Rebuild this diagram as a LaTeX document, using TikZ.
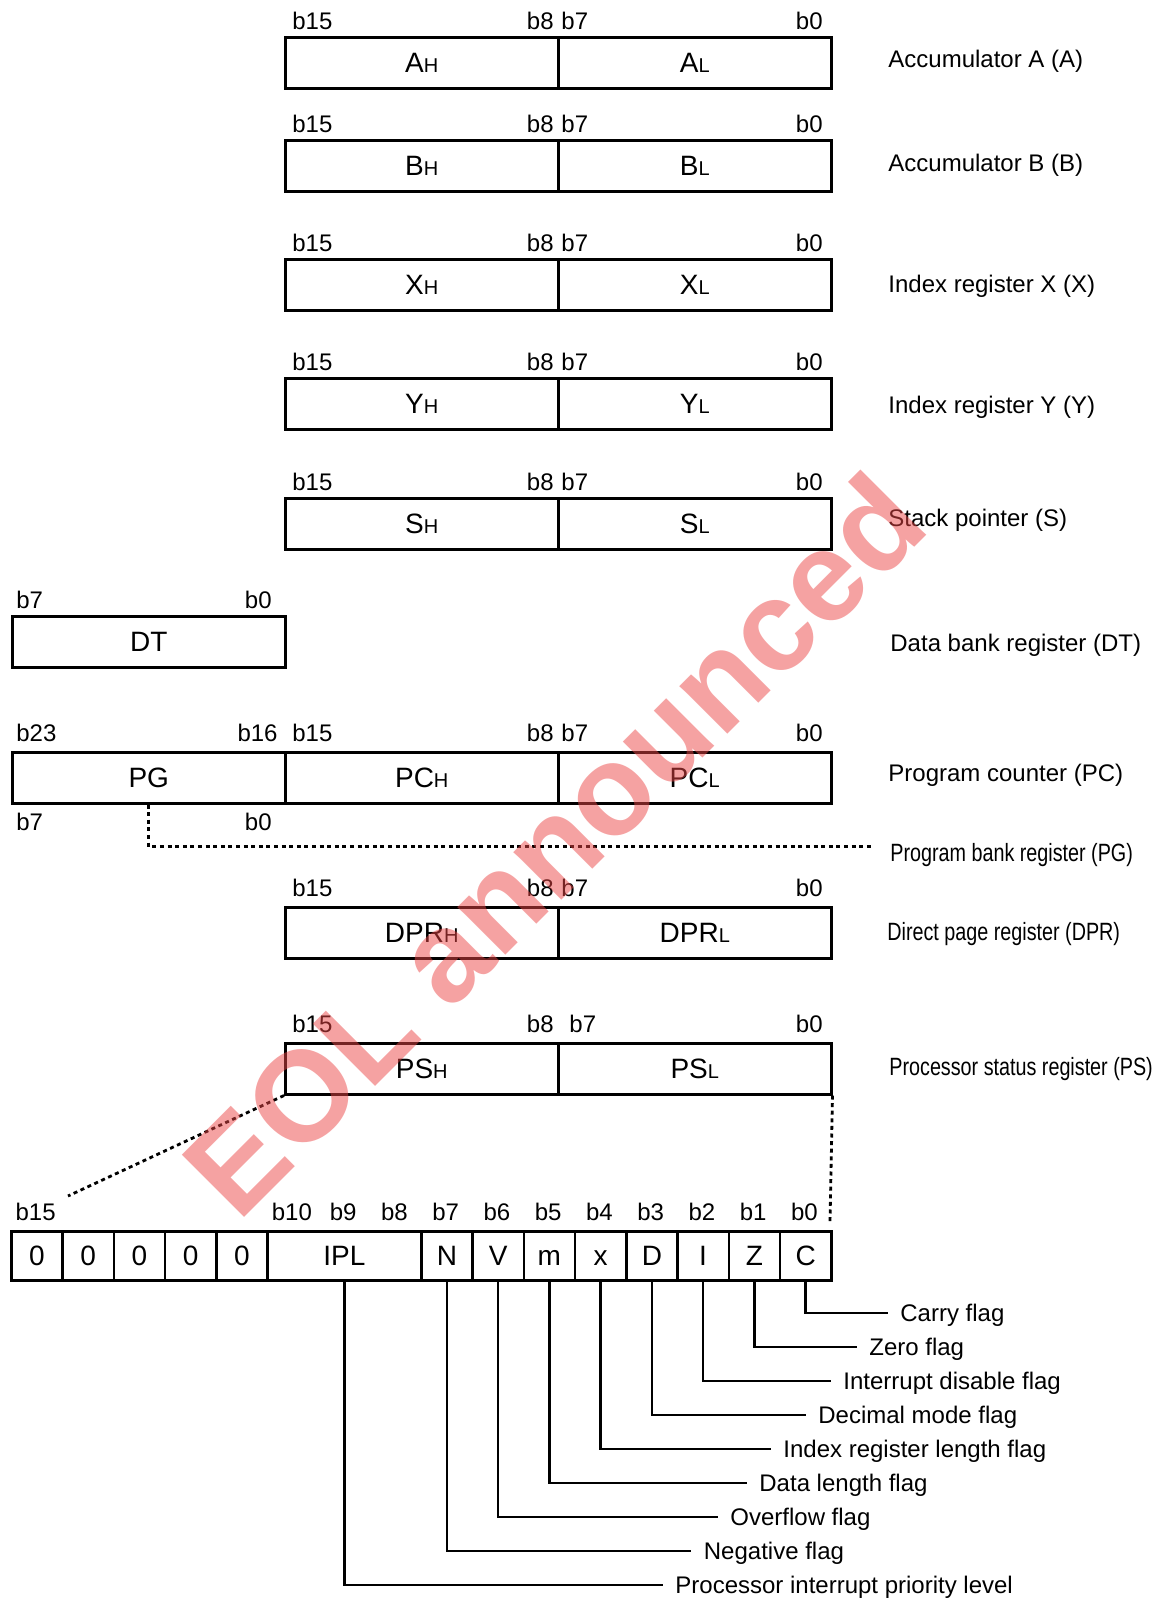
\documentclass[tikz,border=0pt]{standalone}
\usepackage{fontspec}
\setmainfont{Liberation Sans}
\newfontfamily\narrowfont{Liberation Sans}[FakeStretch=0.79]
\newcommand\lo[1]{{\fontsize{10}{12}\selectfont #1}}
\definecolor{wmred}{RGB}{235,70,70}
\begin{document}
\begin{tikzpicture}[x=0.5pt,y=-0.5pt,
  regbox/.style={draw, line width=1.25pt, inner sep=0pt, minimum width=136.5pt, minimum height=25.5pt,
    anchor=north west, text height=10pt, text depth=0pt, font=\fontsize{14}{16}\selectfont},
  flagbox/.style={regbox, minimum width=25.625pt, minimum height=24.7pt},
  bitlab/.style={inner sep=0pt, font=\fontsize{12}{14}\selectfont},
  rlab/.style={anchor=west, inner sep=0pt, text height=8.6pt, text depth=0pt, font=\fontsize{12}{14}\selectfont},
  nrlab/.style={rlab, font=\narrowfont\fontsize{12.5}{14}\selectfont},
  flagtxt/.style={anchor=west, inner ysep=0pt, inner xsep=6.25pt, text height=8.6pt, text depth=0pt, font=\fontsize{12}{14}\selectfont},
  callout/.style={line width=1.2pt},
  dotline/.style={line width=1.4pt, dash pattern=on 2pt off 1.8pt}]
\useasboundingbox (0,0) rectangle (1161,1601);

% ---------- 16-bit registers ----------
\newcommand\regrow[7]{%
  \node[regbox] (#1H) at (284,#2) {#3};
  \node[regbox] (#1L) at (557,#2) {#4};
  \node[bitlab, anchor=base west] (#1b15) at (292,#2-#6) {b15};
  \node[bitlab, anchor=base east] (#1b8) at (554,#2-#6) {b8};
  \node[bitlab, anchor=base west] (#1b7) at (#7,#2-#6) {b7};
  \node[bitlab, anchor=base east] (#1b0) at (823,#2-#6) {b0};
  \node[rlab] (#1lab) at (888,#5) {\csname lab#1\endcsname};
}
\newcommand\labA{Accumulator A (A)}
\newcommand\labB{Accumulator B (B)}
\newcommand\labX{Index register X (X)}
\newcommand\labY{Index register Y (Y)}
\newcommand\labS{Stack pointer (S)}
\regrow{A}{36}{A\lo{H}}{A\lo{L}}{59}{7}{561}
\regrow{B}{139}{B\lo{H}}{B\lo{L}}{163}{7}{561}
\regrow{X}{258}{X\lo{H}}{X\lo{L}}{284}{7}{561}
\regrow{Y}{377}{Y\lo{H}}{Y\lo{L}}{405}{7}{561}
\regrow{S}{497}{S\lo{H}}{S\lo{L}}{518}{7}{561}

% ---------- DT ----------
\node[regbox] (DT) at (11,615) {DT};
\node[bitlab, anchor=base west] (DTb7) at (16,608) {b7};
\node[bitlab, anchor=base east] (DTb0) at (272,608) {b0};
\node[rlab] (DTlab) at (890,643) {Data bank register (DT)};

% ---------- PC ----------
\node[regbox] (PG) at (11,751) {PG};
\node[regbox] (PCH) at (284,751) {PC\lo{H}};
\node[regbox] (PCL) at (557,751) {PC\lo{L}};
\node[bitlab, anchor=base west] at (16,741.5) {b23};
\node[bitlab, anchor=base east] at (278,741.5) {b16};
\node[bitlab, anchor=base west] at (292,741.5) {b15};
\node[bitlab, anchor=base east] at (554,741.5) {b8};
\node[bitlab, anchor=base west] at (561,741.5) {b7};
\node[bitlab, anchor=base east] at (823,741.5) {b0};
\node[bitlab, anchor=base west] at (16,830) {b7};
\node[bitlab, anchor=base east] at (272,830) {b0};
\node[rlab] (PClab) at (888,773) {Program counter (PC)};
\coordinate (pgend) at (871,846.5);
\draw[dotline] (PG.south) |- (pgend);
\node[nrlab] (PGlab) at (890,853) {Program bank register (PG)};

% ---------- DPR ----------
\node[regbox] (DPRH) at (284,906) {DPR\lo{H}};
\node[regbox] (DPRL) at (557,906) {DPR\lo{L}};
\node[bitlab, anchor=base west] at (292,896.5) {b15};
\node[bitlab, anchor=base east] at (554,896.5) {b8};
\node[bitlab, anchor=base west] at (561,896.5) {b7};
\node[bitlab, anchor=base east] at (823,896.5) {b0};
\node[nrlab] (DPRlab) at (887,932) {Direct page register (DPR)};

% ---------- PS ----------
\node[regbox] (PSH) at (284,1042) {PS\lo{H}};
\node[regbox] (PSL) at (557,1042) {PS\lo{L}};
\node[bitlab, anchor=base west] at (292,1032) {b15};
\node[bitlab, anchor=base east] at (554,1032) {b8};
\node[bitlab, anchor=base west] at (569,1032) {b7};
\node[bitlab, anchor=base east] at (823,1032) {b0};
\node[nrlab] (PSlab) at (889,1067) {Processor status register (PS)};
\coordinate (psl) at (68,1196);
\coordinate (psr) at (830,1222);
\draw[dotline] (PSH.south west) -- (psl);
\draw[dotline] (PSL.south east) -- (psr);

% ---------- flags ----------
\foreach \i/\t/\n in {0/0/f0,1/0/f1,2/0/f2,3/0/f3,4/0/f4,8/N/fN,9/V/fV,10/m/fm,11/x/fx,12/D/fD,13/I/fI,14/Z/fZ,15/C/fC}
  \node[flagbox] (\n) at ({10+51.25*\i},1230) {\t};
\node[flagbox, minimum width=76.875pt] (fIPL) at ({10+51.25*5},1230) {IPL};
\foreach \i/\b in {0/15,5/10,6/9,7/8,8/7,9/6,10/5,11/4,12/3,13/2,14/1,15/0}
  \node[bitlab, anchor=base] at ({10+51.25*(\i+0.5)},1220.5) {b\b};

\node[flagtxt] (tC) at (887.5,1313) {Carry flag};
\node[flagtxt] (tZ) at (856.5,1347) {Zero flag};
\node[flagtxt] (tI) at (830.5,1381) {Interrupt disable flag};
\node[flagtxt] (tD) at (805.5,1415) {Decimal mode flag};
\node[flagtxt] (tx) at (770.5,1449) {Index register length flag};
\node[flagtxt] (tm) at (746.5,1483) {Data length flag};
\node[flagtxt] (tV) at (717.5,1517) {Overflow flag};
\node[flagtxt] (tN) at (691,1551) {Negative flag};
\node[flagtxt] (tIPL) at (662.5,1585) {Processor interrupt priority level};
\foreach \n in {C,Z,I,D,x,m,V,N,IPL}
  \draw[callout] (f\n.south) |- (t\n.west);

% ---------- watermark ----------
\node[rotate=45, inner sep=0pt, text=wmred, text opacity=0.5,
  font=\fontsize{64}{70}\selectfont\bfseries] (wm) at (553,844) {EOL announced};
\end{tikzpicture}
\end{document}
